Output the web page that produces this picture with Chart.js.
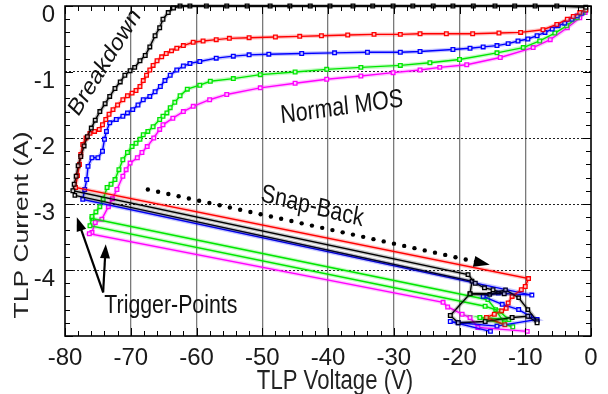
<!DOCTYPE html>
<html><head><meta charset="utf-8">
<script src="https://cdn.jsdelivr.net/npm/chart.js@4"></script>
<style>html,body{margin:0;padding:0;background:#fff}#wrap{width:608px;height:394px}</style>
</head><body><div id="wrap"><canvas id="c" width="608" height="394"></canvas></div>
<script>
// ---- axis ranges & tick labels ----
const xTickValues = [-80,-70,-60,-50,-40,-30,-20,-10,0];
const xTickLabels = ['-80','-70','-60','-50','-40','-30','-20','-10','0'];
const yTickValues = [0,-1,-2,-3,-4,-5];
const yTickLabels = ['0','-1','-2','-3','-4',''];

// ---- black (Breakdown) ----
const blackV = [-0.8,-5.2,-8.5,-11.6,-14.6,-17.9,-21.0,-24.0,-27.1,-30.1,-33.2,-36.2,-39.7,-42.7,-45.8,-48.8,-52.3,-55.4,-58.5,-61.0,-62.5,-63.5,-64.3,-65.1,-65.6,-66.3,-67.1,-67.8,-68.6,-69.4,-70.1,-70.9,-71.6,-72.4,-73.2,-73.9,-74.7,-75.4,-76.0,-76.6,-77.1,-77.6,-78.0,-78.3,-78.6,-78.8,
  -18.7,-17.6,-16.2,-14.9,-13.2,-18.4,-21.4,-20.2,-16.1,-12.0,-9.6,-8.2];
const blackI = [-0.02,0,0,0,0,0,0,0,0,0,0,0,0,0,0,0,0,0,0,0,0,-0.03,-0.1,-0.2,-0.33,-0.45,-0.62,-0.75,-0.83,-0.93,-0.98,-1.05,-1.15,-1.25,-1.37,-1.48,-1.6,-1.73,-1.85,-1.98,-2.12,-2.28,-2.42,-2.58,-2.7,-2.8,
  -4.07,-4.2,-4.27,-4.3,-4.36,-4.36,-4.69,-4.8,-4.78,-4.72,-4.7,-4.8];
const black2V = [-78.5,-18.1,-18.4,-15.4,-13.0,-11.0,-9.6,-8.2];
const black2I = [-2.87,-4.17,-4.36,-4.37,-4.3,-4.42,-4.6,-4.77];

// ---- red ----
const redV = [-0.8,-1.7,-2.7,-3.6,-5.2,-7.3,-10.7,-14,-18,-22,-26,-29,-33,-37,-41,-44.3,-48,-52,-55,-57,-59,-60.5,-62,-63,-63.8,-64.6,-65.3,-66,-66.6,-67.1,-67.6,-68.1,-68.6,-69.2,-69.8,-70.5,-71.2,-72,-72.7,-73.3,-73.8,-74.3,-74.8,-75.5,-76.2,-76.8,-77.3,-77.6,-77.8,-78.1,-78.4,
  -9.5,-10.0,-10.6,-12.0,-12.6,-12.9,-13.6,-14.7,-15.9,-13.1];
const redI = [-0.06,-0.1,-0.16,-0.2,-0.28,-0.36,-0.4,-0.41,-0.42,-0.42,-0.42,-0.43,-0.43,-0.44,-0.45,-0.46,-0.47,-0.48,-0.49,-0.51,-0.53,-0.55,-0.6,-0.64,-0.68,-0.72,-0.77,-0.83,-0.9,-0.97,-1.05,-1.13,-1.22,-1.28,-1.32,-1.36,-1.42,-1.5,-1.57,-1.64,-1.72,-1.8,-1.87,-1.9,-1.93,-2.0,-2.1,-2.25,-2.4,-2.57,-2.75,
  -4.13,-4.25,-4.3,-4.4,-4.5,-4.58,-4.62,-4.67,-4.72,-4.83];

// ---- blue ----
const blueV = [-0.8,-1.4,-2.1,-2.9,-4,-5,-5.9,-7,-8.2,-9.6,-11.1,-12.6,-14.3,-16.4,-18.4,-21,-26,-29,-34,-39,-44,-49,-52,-54.4,-57,-59.5,-61,-62,-63,-64,-64.8,-65.5,-66.3,-67.1,-68.1,-68.9,-69.7,-70.5,-71.2,-72.2,-73.2,-73.7,-74,-74.3,-75,-75.9,-76.5,-76.7,-77,-77.3,
  -9.0,-14.1,-16.4,-13.5,-11.0,-9.3,-8.2,-14.3,-20.2,-21.4,-15.3];
const blueI = [-0.06,-0.11,-0.15,-0.2,-0.26,-0.3,-0.35,-0.4,-0.45,-0.5,-0.53,-0.57,-0.6,-0.62,-0.64,-0.66,-0.69,-0.7,-0.7,-0.71,-0.72,-0.73,-0.74,-0.76,-0.79,-0.84,-0.87,-0.91,-0.97,-1.05,-1.13,-1.22,-1.3,-1.37,-1.42,-1.5,-1.57,-1.62,-1.67,-1.72,-1.77,-1.9,-2.02,-2.2,-2.3,-2.3,-2.43,-2.63,-2.78,-2.93,
  -4.38,-4.35,-4.4,-4.52,-4.6,-4.7,-4.75,-4.85,-4.8,-4.78,-4.93];

// ---- green ----
const greenV = [-0.8,-1.2,-2.1,-3.7,-5.5,-7.8,-10.3,-14.3,-20,-24.5,-29,-35,-40.2,-45,-50.3,-54.4,-57.9,-59.5,-61.4,-62.5,-63.3,-64,-64.5,-65.1,-65.6,-66.6,-67.4,-68.1,-68.6,-69.2,-69.8,-70.5,-71.2,-71.8,-72.4,-73,-73.6,-74.2,-74.7,-75.3,-75.9,-76.2,
  -16.1,-14.0,-12.5,-16.9,-11.9];
const greenI = [-0.05,-0.1,-0.18,-0.3,-0.41,-0.53,-0.63,-0.71,-0.81,-0.86,-0.9,-0.93,-0.96,-1.0,-1.04,-1.1,-1.14,-1.2,-1.26,-1.36,-1.46,-1.54,-1.62,-1.67,-1.72,-1.83,-1.9,-1.95,-2.02,-2.08,-2.13,-2.22,-2.33,-2.48,-2.63,-2.7,-2.75,-2.93,-3.04,-3.12,-3.19,-3.33,
  -4.55,-4.62,-4.75,-4.72,-4.86];
const green2V = [-75.9,-15.7,-14.5,-13.2];
const green2I = [-3.22,-4.45,-4.6,-4.8];

// ---- magenta ----
const magentaV = [-0.9,-1.7,-3.6,-6.2,-8.8,-13.8,-18.9,-23,-26,-30.1,-35,-40.2,-45,-50.3,-55.4,-58,-60.5,-62,-63.6,-65.1,-65.6,-66.5,-67.5,-68.3,-69,-70.1,-70.7,-71.2,-72.1,-72.8,-73.4,-74.4,-75.4,-75.9,-76.3,
  -22.5,-21.8,-19.6,-18.4,-17.2,-9.7];
const magentaI = [-0.1,-0.18,-0.33,-0.51,-0.63,-0.78,-0.89,-0.93,-0.97,-1.01,-1.06,-1.11,-1.17,-1.24,-1.34,-1.42,-1.52,-1.6,-1.7,-1.8,-1.87,-2.0,-2.13,-2.22,-2.3,-2.38,-2.48,-2.58,-2.78,-2.92,-3.04,-3.23,-3.28,-3.43,-3.45,
  -4.49,-4.56,-4.67,-4.72,-4.87,-4.93];

// ---- annotations (data coordinates) ----
const labelTexts  = ['Breakdown','Normal MOS','Snap-Back','Trigger-Points'];
const labelV      = [-73.9,-37.9,-42.4,-63.9];
const labelI      = [-0.86,-1.54,-3.04,-4.55];
const labelAngle  = [-58,-8,14,0];
const labelSize   = [25.5,26,26,26];
const snapArrowV  = [-67.4,-15.4];
const snapArrowI  = [-2.78,-3.92];
const trigFromV   = [-74.2,-74.2];
const trigFromI   = [-4.34,-4.34];
const trigToV     = [-78.2,-73.8];
const trigToI     = [-3.2,-3.61];

const REG = "'Liberation Sans', Arial, sans-serif";
const NARROW = "'Liberation Sans Narrow', 'Arial Narrow', 'Liberation Sans', sans-serif";
const SX = 0.82;

function pts(vs, is){ return vs.map((v,k)=>({x:v,y:is[k]})); }
function rgba(c,a){ return `rgba(${c[0]},${c[1]},${c[2]},${a})`; }
const COLS = {black:[0,0,0], red:[255,0,0], blue:[0,0,255], green:[0,230,0], magenta:[255,0,255]};

const series = [
  ['black', blackV, blackI, true], ['black', black2V, black2I, false],
  ['red', redV, redI, true],
  ['blue', blueV, blueI, true],
  ['green', greenV, greenI, true], ['green', green2V, green2I, false],
  ['magenta', magentaV, magentaI, true]
];
const datasets = [];
series.forEach(([name, vs, is, main])=>{
  const c = COLS[name];
  datasets.push({data: pts(vs,is), showLine:true, borderColor: rgba(c,0.22), borderWidth: 4, pointRadius:0, tension:0, clip:false});
});
series.forEach(([name, vs, is, main])=>{
  const c = COLS[name];
  datasets.push({data: pts(vs,is), showLine:true, borderColor: rgba(c,1), borderWidth: 1.4, tension:0, clip:false,
    pointStyle:'rect', pointRadius: main?2.6:2.4, pointBorderWidth:1.3, pointBackgroundColor:'#fff', pointBorderColor: rgba(c,1)});
});

function line(ctx,x1,y1,x2,y2){ctx.beginPath();ctx.moveTo(x1,y1);ctx.lineTo(x2,y2);ctx.stroke();}
function arrowHead(ctx,x1,y1,x2,y2,len,wid){
  const a=Math.atan2(y2-y1,x2-x1);
  ctx.save();ctx.translate(x2,y2);ctx.rotate(a);
  ctx.beginPath();ctx.moveTo(0,0);ctx.lineTo(-len,wid/2);ctx.lineTo(-len,-wid/2);ctx.closePath();ctx.fill();ctx.restore();
}
function squishText(ctx, t, px, py, angleDeg, size){
  const th = angleDeg*Math.PI/180;
  const phi = Math.atan2(Math.sin(th), Math.cos(th)/SX);
  ctx.save(); ctx.translate(px,py); ctx.scale(SX,1); ctx.rotate(phi);
  ctx.font = size+'px '+REG; ctx.textAlign='center'; ctx.textBaseline='middle';
  ctx.fillText(t,0,0); ctx.restore();
}

const deco = {
  id:'deco',
  afterDraw(chart){
    const {ctx, chartArea:a, scales:{x,y}} = chart;
    ctx.save();
    ctx.strokeStyle='#000'; ctx.fillStyle='#000';
    ctx.lineWidth=1;
    for(let k=0;k<=40;k++){
      const v=-80+k*2, px=Math.round(x.getPixelForValue(v))+0.5, L=(k%5===0)?8:5;
      line(ctx,px,a.bottom,px,a.bottom-L); line(ctx,px,a.top,px,a.top+L);
    }
    for(let k=0;k<=25;k++){
      const v=-k*0.2, py=Math.round(y.getPixelForValue(v))+0.5, L=(k%5===0)?8:5;
      line(ctx,a.left,py,a.left+L,py); line(ctx,a.right,py,a.right-L,py);
    }
    ctx.lineWidth=1.6; ctx.strokeRect(a.left,a.top,a.right-a.left,a.bottom-a.top);
    // dotted snap-back arrow
    const sx1=x.getPixelForValue(snapArrowV[0]), sy1=y.getPixelForValue(snapArrowI[0]);
    const sx2=x.getPixelForValue(snapArrowV[1]), sy2=y.getPixelForValue(snapArrowI[1]);
    const d=Math.hypot(sx2-sx1,sy2-sy1), n=Math.floor((d-12)/10.5);
    for(let k=0;k<=n;k++){const t=k*10.5/d;ctx.beginPath();ctx.arc(sx1+(sx2-sx1)*t,sy1+(sy2-sy1)*t,2.2,0,Math.PI*2);ctx.fill();}
    arrowHead(ctx,sx1,sy1,sx2,sy2,16,11);
    // trigger arrows
    ctx.lineWidth=2.2;
    for(let k=0;k<2;k++){
      const x1=x.getPixelForValue(trigFromV[k]), y1=y.getPixelForValue(trigFromI[k]);
      const x2=x.getPixelForValue(trigToV[k]), y2=y.getPixelForValue(trigToI[k]);
      const aa=Math.atan2(y2-y1,x2-x1);
      line(ctx,x1,y1,x2-Math.cos(aa)*10,y2-Math.sin(aa)*10);
      arrowHead(ctx,x1,y1,x2,y2,14,10);
    }
    ctx.fillStyle='#111';
    for(let k=0;k<labelTexts.length;k++){
      squishText(ctx,labelTexts[k],x.getPixelForValue(labelV[k]),y.getPixelForValue(labelI[k]),labelAngle[k],labelSize[k]);
    }
    ctx.fillStyle='#222';
    squishText(ctx,'TLP Voltage (V)',335,382,0,27);
    ctx.save(); ctx.translate(22,225); ctx.rotate(-Math.PI/2); ctx.scale(1,0.78);
    ctx.font='26.5px '+REG; ctx.textAlign='center'; ctx.textBaseline='middle'; ctx.fillText('TLP Current (A)',0,0); ctx.restore();
    ctx.restore();
  }
};

new Chart(document.getElementById('c'), {
  type:'scatter',
  data:{datasets},
  options:{
    responsive:false, animation:false, devicePixelRatio:1,
    layout:{padding:{left:0,right:17,top:6,bottom:0}},
    plugins:{legend:{display:false}, tooltip:{enabled:false}},
    scales:{
      x:{type:'linear', min:-80, max:0,
        afterBuildTicks(s){ s.ticks = xTickValues.map(v=>({value:v})); },
        afterFit(s){ s.height=58; s.paddingLeft=0; s.paddingRight=0; },
        ticks:{padding:8, color:'#1a1a1a', font:{family:NARROW, size:24}, maxRotation:0, autoSkip:false,
          callback:(v)=>{const k=xTickValues.indexOf(v); return k<0?'':xTickLabels[k];}},
        grid:{drawTicks:false, lineWidth:1.3, color:(c)=> (c.tick && (c.tick.value===-80||c.tick.value===0))?'rgba(0,0,0,0)':'#7a7a7a'},
        border:{display:false}
      },
      y:{type:'linear', min:-5, max:0,
        afterBuildTicks(s){ s.ticks = yTickValues.map(v=>({value:v})); },
        afterFit(s){ s.width=65; s.paddingTop=0; s.paddingBottom=0; },
        ticks:{padding:10, labelOffset:9, color:'#1a1a1a', font:{family:NARROW, size:24}, autoSkip:false,
          callback:(v)=>{const k=yTickValues.indexOf(v); return k<0?'':yTickLabels[k];}},
        grid:{drawTicks:false, lineWidth:1, color:(c)=> (c.tick && (c.tick.value===0||c.tick.value===-5))?'rgba(0,0,0,0)':'#222'},
        border:{display:false, dash:[2,2]}
      }
    }
  },
  plugins:[deco]
});
</script></body></html>
